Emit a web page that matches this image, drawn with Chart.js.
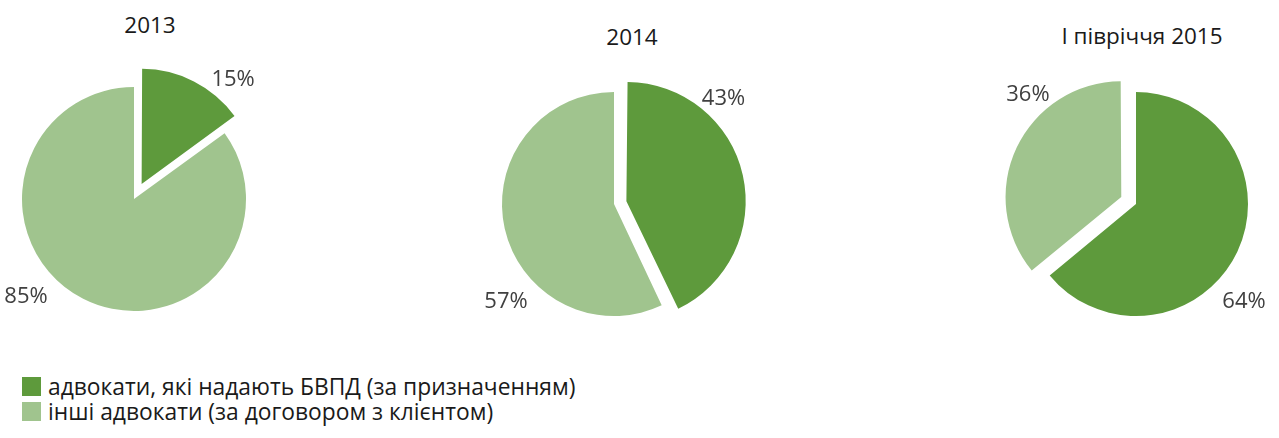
<!DOCTYPE html>
<html>
<head>
<meta charset="utf-8">
<script src="https://cdn.jsdelivr.net/npm/chart.js@4.4.0/dist/chart.umd.min.js"></script>
<style>
  body { margin: 0; background: #fff; }
  #wrap { position: relative; width: 1279px; height: 438px; overflow: hidden; font-family: "Open Sans", sans-serif; }
  .pie { position: absolute; width: 300px; height: 300px; }
  .title { position: absolute; font-size: 22.5px; line-height: 30px; color: #1a1a1a; transform: translateX(-50%); white-space: nowrap; }
  .legend { position: absolute; left: 22px; top: 374px; font-size: 22.8px; color: #1a1a1a; }
  .legend div { height: 25px; display: flex; align-items: center; white-space: nowrap; }
  .legend span { display: inline-block; width: 19px; height: 19px; margin-right: 7px; flex: none; }
</style>
</head>
<body>
<div id="wrap"></div>
<script>
var periods = ['2013', '2014', 'I півріччя 2015'];
var categories = ['адвокати, які надають БВПД (за призначенням)', 'інші адвокати (за договором з клієнтом)'];
var appointed = [15, 43, 64];
var contract = [85, 57, 36];
var colors = ['#5e9a3c', '#a0c48e'];

// layout only
var pieCenters = [[134, 199], [614, 204], [1136, 204]];
var titleCenters = [[150, 25], [632, 37], [1142, 36]];
var RADIUS = 112;
var GAP = 20;

// explode the smaller slice by GAP px (undo chart.js arc offset scaling)
function explodeOffset(ctx) {
  var d = ctx.dataset.data;
  if (ctx.dataIndex !== d.indexOf(Math.min.apply(null, d))) return 0;
  var circ = d[ctx.dataIndex] / (d[0] + d[1]) * 2 * Math.PI;
  var fix = 1 - Math.sin(Math.min(Math.PI, circ));
  return 4 * GAP / (1 + fix);
}

var pctLabels = {
  id: 'pctLabels',
  afterDatasetsDraw: function (chart) {
    var c = chart.ctx;
    var meta = chart.getDatasetMeta(0);
    var data = chart.data.datasets[0].data;
    c.save();
    c.font = '22px "Open Sans"';
    c.fillStyle = '#404040';
    c.textAlign = 'center';
    c.textBaseline = 'middle';
    meta.data.forEach(function (arc, j) {
      var p = arc.getProps(['x', 'y', 'startAngle', 'endAngle', 'circumference'], true);
      var mid = (p.startAngle + p.endAngle) / 2;
      var off = (arc.options.offset || 0) / 4;
      var fix = 1 - Math.sin(Math.min(Math.PI, p.circumference));
      var t = off * (1 + fix);
      var sx = Math.cos(mid) >= 0 ? 1 : -1;
      var sy = Math.sin(mid) >= 0 ? 1 : -1;
      // label sits off the nearest corner of the slice
      var dx = t > 0 ? 90 : 108;
      var dy = t > 0 ? 101 : 98;
      var x = p.x + Math.cos(mid) * t + sx * dx;
      var y = p.y + Math.sin(mid) * t + sy * dy;
      c.fillText(data[j] + '%', x, y);
    });
    c.restore();
  }
};

var wrap = document.getElementById('wrap');

periods.forEach(function (period, i) {
  var t = document.createElement('div');
  t.className = 'title';
  t.textContent = period;
  t.style.left = titleCenters[i][0] + 'px';
  t.style.top = (titleCenters[i][1] - 15) + 'px';
  wrap.appendChild(t);

  var cv = document.createElement('canvas');
  cv.className = 'pie';
  cv.width = 300;
  cv.height = 300;
  cv.style.left = (pieCenters[i][0] - 150) + 'px';
  cv.style.top = (pieCenters[i][1] - 150) + 'px';
  wrap.appendChild(cv);

  new Chart(cv, {
    type: 'pie',
    data: {
      labels: categories,
      datasets: [{
        data: [appointed[i], contract[i]],
        backgroundColor: colors,
        borderWidth: 0,
        radius: RADIUS,
        offset: explodeOffset
      }]
    },
    options: {
      responsive: false,
      animation: false,
      events: [],
      radius: RADIUS,
      layout: { padding: 0 },
      plugins: { legend: { display: false }, tooltip: { enabled: false } }
    },
    plugins: [pctLabels]
  });
});

var lg = document.createElement('div');
lg.className = 'legend';
categories.forEach(function (name, k) {
  var row = document.createElement('div');
  var sw = document.createElement('span');
  sw.style.background = colors[k];
  row.appendChild(sw);
  row.appendChild(document.createTextNode(name));
  lg.appendChild(row);
});
wrap.appendChild(lg);
</script>
</body>
</html>
